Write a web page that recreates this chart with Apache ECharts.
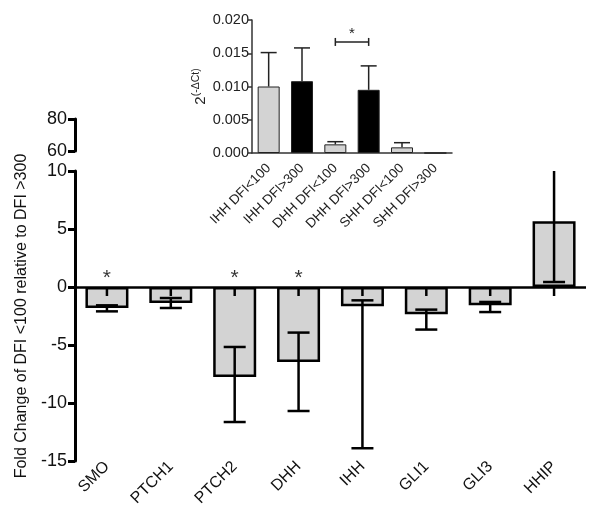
<!DOCTYPE html>
<html>
<head>
<meta charset="utf-8">
<script src="https://cdn.jsdelivr.net/npm/echarts@6/dist/echarts.min.js"></script>
<style>html,body{margin:0;padding:0;background:#fff}#c{width:600px;height:520px}</style>
</head>
<body>
<div id="c"></div>
<script>
// ---- main chart data ----
const categories = ['SMO', 'PTCH1', 'PTCH2', 'DHH', 'IHH', 'GLI1', 'GLI3', 'HHIP'];
const foldChange = [-1.81, -1.38, -7.76, -6.47, -1.66, -2.35, -1.58, 5.66];
const errUpper = [-1.58, -0.95, -5.17, -3.93, -1.15, -1.95, -1.29, 10]; // HHIP runs off the axis top
const errLower = [-2.10, -1.81, -11.64, -10.69, -13.90, -3.67, -2.16, 0.43];
const significant = [1, 0, 1, 1, 0, 0, 0, 0];
const starLevel = 1.2;
// ---- inset data ----
const insetCategories = ['IHH DFI<100', 'IHH DFI>300', 'DHH DFI<100', 'DHH DFI>300', 'SHH DFI<100', 'SHH DFI>300'];
const insetValues = [0.0100, 0.0108, 0.0013, 0.0095, 0.00085, 0];
const insetErr = [0.0151, 0.0158, 0.0017, 0.0131, 0.00155, 0];
const insetBracket = [2, 3, 0.0167];

const FONT = 'Liberation Sans, Arial, sans-serif';
const GREY = '#d3d3d3';
const chart = echarts.init(document.getElementById('c'));

const mainErrData = categories.map((c, i) => [i, errUpper[i], errLower[i]]);
const starData = categories.map((c, i) => significant[i] ? [i, starLevel] : null).filter(d => d);
const insetErrData = insetCategories.map((c, i) => [i, insetValues[i], insetErr[i]]);

chart.setOption({
  animation: false,
  grid: [
    {left: 75, top: 171, width: 511, height: 290},
    {left: 75, top: 119, width: 511, height: 32},
    {left: 252, top: 20, width: 200, height: 133}
  ],
  xAxis: [
    {gridIndex: 0, type: 'category', data: categories, position: 'bottom',
     axisLine: {show: false, onZero: false}, axisTick: {show: false},
     axisLabel: {rotate: 45, fontSize: 16, fontFamily: FONT, color: '#111', margin: 3}},
    {gridIndex: 1, type: 'category', data: categories, show: false},
    {gridIndex: 2, type: 'category', data: insetCategories,
     axisLine: {lineStyle: {color: '#333', width: 1.5}},
     axisTick: {alignWithLabel: true, length: 4, lineStyle: {color: '#333', width: 1.5}},
     axisLabel: {rotate: 45, fontSize: 13.5, fontFamily: FONT, color: '#222', margin: 13, interval: 0}}
  ],
  yAxis: [
    {gridIndex: 0, type: 'value', min: -15, max: 10, interval: 5,
     name: 'Fold Change of DFI <100 relative to DFI >300', nameLocation: 'middle', nameRotate: 90, nameGap: 38,
     nameTextStyle: {fontSize: 16, fontFamily: FONT, color: '#111'},
     axisLine: {show: true, onZero: false, lineStyle: {color: '#000', width: 3}},
     axisTick: {show: true, length: 7, lineStyle: {color: '#000', width: 3}},
     splitLine: {show: false},
     axisLabel: {fontSize: 18, fontFamily: FONT, color: '#111', margin: 8}},
    {gridIndex: 1, type: 'value', min: 60, max: 80, interval: 20,
     axisLine: {show: true, onZero: false, lineStyle: {color: '#000', width: 3}},
     axisTick: {show: true, length: 7, lineStyle: {color: '#000', width: 3}},
     splitLine: {show: false},
     axisLabel: {fontSize: 18, fontFamily: FONT, color: '#111', margin: 8}},
    {gridIndex: 2, type: 'value', min: 0, max: 0.02, interval: 0.005,
     name: '{b|2}{s|(-ΔCt)}', nameLocation: 'middle', nameRotate: 90, nameGap: 38,
     nameTextStyle: {rich: {
       b: {fontSize: 15, fontFamily: FONT, color: '#222', verticalAlign: 'bottom', lineHeight: 18},
       s: {fontSize: 10.5, fontFamily: FONT, color: '#222', verticalAlign: 'top', lineHeight: 18}
     }},
     axisLine: {show: true, onZero: false, lineStyle: {color: '#333', width: 1.5}},
     axisTick: {show: true, length: 4, lineStyle: {color: '#333', width: 1.5}},
     splitLine: {show: false},
     axisLabel: {fontSize: 14.5, fontFamily: FONT, color: '#222', margin: 3,
       formatter: v => v.toFixed(3)}}
  ],
  series: [
    {type: 'bar', xAxisIndex: 0, yAxisIndex: 0, data: foldChange, barWidth: 43,
     itemStyle: {color: GREY, borderColor: '#000', borderWidth: 2.5},
     markLine: {silent: true, symbol: 'none', label: {show: false},
       lineStyle: {color: '#000', width: 2.5, type: 'solid'}, data: [{yAxis: 0}]}},
    {type: 'custom', xAxisIndex: 0, yAxisIndex: 0, data: mainErrData, z: 5,
     renderItem: function (params, api) {
       const x = api.value(0), hi = api.value(1), lo = api.value(2);
       const pHi = api.coord([x, hi]), pLo = api.coord([x, lo]), p0 = api.coord([x, 0]);
       const cw = 11, st = {stroke: '#000', lineWidth: 2.5};
       const ch = [
         {type: 'line', shape: {x1: pHi[0], y1: pHi[1], x2: pLo[0], y2: pLo[1]}, style: st},
         {type: 'line', shape: {x1: pLo[0] - cw, y1: pLo[1], x2: pLo[0] + cw, y2: pLo[1]}, style: st},
         {type: 'line', shape: {x1: p0[0], y1: p0[1], x2: p0[0], y2: p0[1] + 9}, style: st}
       ];
       if (hi < 10) ch.push({type: 'line', shape: {x1: pHi[0] - cw, y1: pHi[1], x2: pHi[0] + cw, y2: pHi[1]}, style: st});
       return {type: 'group', children: ch};
     }},
    {type: 'scatter', xAxisIndex: 0, yAxisIndex: 0, data: starData, symbolSize: 0,
     label: {show: true, formatter: '*', fontSize: 21, fontFamily: FONT, color: '#000', position: 'inside', offset: [0, 5]}},
    {type: 'bar', xAxisIndex: 2, yAxisIndex: 2, barWidth: 22,
     data: insetValues.map((v, i) => ({value: v, itemStyle: {color: i % 2 ? '#000' : GREY, borderColor: '#222', borderWidth: 1}}))},
    {type: 'custom', xAxisIndex: 2, yAxisIndex: 2, data: insetErrData, z: 5,
     renderItem: function (params, api) {
       const x = api.value(0), v = api.value(1), e = api.value(2);
       if (e <= v) return null;
       const pV = api.coord([x, v]), pE = api.coord([x, e]);
       const cw = 8, st = {stroke: '#222', lineWidth: 1.5};
       return {type: 'group', children: [
         {type: 'line', shape: {x1: pV[0], y1: pV[1], x2: pE[0], y2: pE[1]}, style: st},
         {type: 'line', shape: {x1: pE[0] - cw, y1: pE[1], x2: pE[0] + cw, y2: pE[1]}, style: st}
       ]};
     }},
    {type: 'custom', xAxisIndex: 2, yAxisIndex: 2, data: [insetBracket], z: 5,
     renderItem: function (params, api) {
       const a = api.coord([api.value(0), api.value(2)]), b = api.coord([api.value(1), api.value(2)]);
       const st = {stroke: '#222', lineWidth: 1.5};
       return {type: 'group', children: [
         {type: 'line', shape: {x1: a[0], y1: a[1], x2: b[0], y2: b[1]}, style: st},
         {type: 'line', shape: {x1: a[0], y1: a[1] - 4, x2: a[0], y2: a[1] + 4}, style: st},
         {type: 'line', shape: {x1: b[0], y1: b[1] - 4, x2: b[0], y2: b[1] + 4}, style: st},
         {type: 'text', style: {x: (a[0] + b[0]) / 2, y: a[1] - 1, text: '*', fontSize: 15, fontFamily: FONT,
           fill: '#222', align: 'center', verticalAlign: 'bottom'}}
       ]};
     }}
  ]
});
</script>
</body>
</html>
